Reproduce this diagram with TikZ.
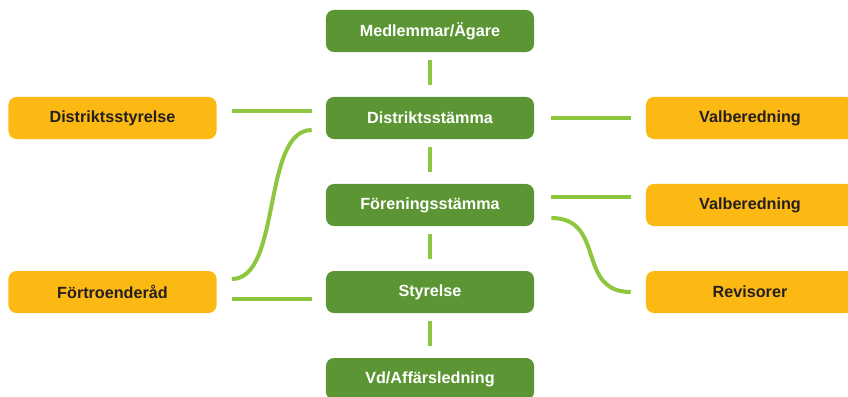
\documentclass[tikz,border=0pt]{standalone}
\usepackage{fontspec}
\setmainfont{Liberation Sans}
\usetikzlibrary{calc}
\definecolor{boxgreen}{RGB}{92,150,52}
\definecolor{linkgreen}{RGB}{141,198,63}
\definecolor{boxorange}{RGB}{253,185,19}
\definecolor{darktext}{RGB}{35,31,32}

\begin{document}
\begin{tikzpicture}[x=0.025cm, y=-0.025cm,
		box/.style={rectangle, rounded corners=0.2cm, minimum width=5.2cm, minimum height=1.05cm, inner sep=0pt, font=\fontsize{11.5}{13}\selectfont\bfseries},
		greenbox/.style={box, fill=boxgreen, text=white},
		orangebox/.style={box, fill=boxorange, text=darktext},
		link/.style={draw=linkgreen, line width=0.1cm}]
			%%%%% START %%%%%
			
			\useasboundingbox (0, 0) rectangle (848, 396);
			\clip (0, 0) rectangle (848, 396);
			
			\node[greenbox] (medl) at (430, 31) {Medlemmar/Ägare};
			\node[greenbox] (dstamma) at (430, 118) {Distriktsstämma};
			\node[greenbox] (fstamma) at (430, 205) {Föreningsstämma};
			\node[greenbox] (styr) at (430, 292) {Styrelse};
			\node[greenbox] (vd) at (430, 379) {Vd/Affärsledning};
			
			\node[orangebox] (dstyr) at (112.5, 118) {Distriktsstyrelse};
			\node[orangebox] (fortr) at (112.5, 292) {Förtroenderåd};
			
			\node[orangebox] (valb1) at (750, 118) {Valberedning};
			\node[orangebox] (valb2) at (750, 205) {Valberedning};
			\node[orangebox] (rev) at (750, 292) {Revisorer};
			
			\draw[link] ($(medl.south)+(0, 8)$) -- ($(dstamma.north)+(0, -12)$);
			\draw[link] ($(dstamma.south)+(0, 8)$) -- ($(fstamma.north)+(0, -12)$);
			\draw[link] ($(fstamma.south)+(0, 8)$) -- ($(styr.north)+(0, -12)$);
			\draw[link] ($(styr.south)+(0, 8)$) -- ($(vd.north)+(0, -12)$);
			
			\draw[link] ($(dstyr.east)+(15, -7)$) -- ($(dstamma.west)+(-14, -7)$);
			\draw[link] ($(fortr.east)+(15, 7)$) -- ($(styr.west)+(-14, 7)$);
			\draw[link] ($(fortr.east)+(15, -13)$) .. controls ($(fortr.east)+(65, -13)$) and ($(dstamma.west)+(-64, 12)$) .. ($(dstamma.west)+(-14, 12)$);
			
			\draw[link] ($(dstamma.east)+(17, 0)$) -- ($(valb1.west)+(-15, 0)$);
			\draw[link] ($(fstamma.east)+(17, -8)$) -- ($(valb2.west)+(-15, -8)$);
			\draw[link] ($(fstamma.east)+(17, 13)$) .. controls ($(fstamma.east)+(72, 13)$) and ($(rev.west)+(-70, 0)$) .. ($(rev.west)+(-15, 0)$);
			
			%%%%% END %%%%%
		\end{tikzpicture}
\end{document}
